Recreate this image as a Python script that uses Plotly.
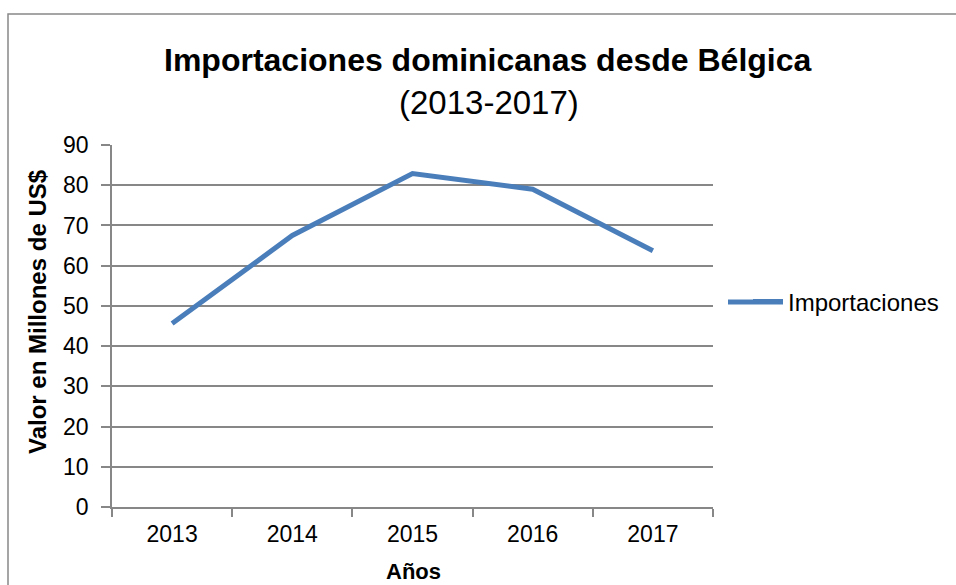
import plotly.graph_objects as go

years = ["2013", "2014", "2015", "2016", "2017"]
importaciones = [45.6, 67.5, 82.9, 79.0, 63.7]
y_ticks = [0, 10, 20, 30, 40, 50, 60, 70, 80, 90]

title_main = "Importaciones dominicanas desde Bélgica"
title_sub = "(2013-2017)"
y_title = "Valor en Millones de US$"
x_title = "Años"
series_name = "Importaciones"

FONT = "Liberation Sans, Arial, sans-serif"
GRID = "#878787"
LINE = "#4A7EBB"

W, H = 956, 585
L, R, T, B = 112, 243, 145, 78
pw, ph = W - L - R, H - T - B

def px_x(x):
    return (x - L) / pw

def px_y(y):
    return (H - B - y) / ph

fig = go.Figure()
fig.add_trace(go.Scatter(
    x=years, y=importaciones, mode="lines", name=series_name,
    line=dict(color=LINE, width=5),
))

fig.update_layout(
    width=W, height=H,
    margin=dict(l=L, r=R, t=T, b=B),
    paper_bgcolor="white", plot_bgcolor="white",
    font=dict(family=FONT, color="black", size=23),
    showlegend=True,
    legend=dict(x=px_x(748), y=px_y(302), xanchor="left", yanchor="middle",
                font=dict(size=24, family=FONT), bgcolor="rgba(0,0,0,0)"),
    xaxis=dict(type="category", range=[-0.5, 4.5], tickson="boundaries",
               ticks="outside", ticklen=8, tickcolor=GRID, tickwidth=1.5,
               showline=True, linecolor=GRID, linewidth=1.5,
               showgrid=False, tickfont=dict(size=23), ticklabelstandoff=6),
    yaxis=dict(range=[0, 90], tickvals=y_ticks, ticks="outside", ticklen=9,
               tickcolor=GRID, tickwidth=1.5, showline=True, linecolor=GRID,
               linewidth=1.5, showgrid=True, gridcolor=GRID, gridwidth=1.5,
               zeroline=False, tickfont=dict(size=23), ticklabelstandoff=8),
)

fig.add_annotation(text="<b>" + title_main + "</b>", xref="paper", yref="paper",
                   x=px_x(488), y=px_y(60), xanchor="center", yanchor="middle",
                   showarrow=False, font=dict(size=32, family=FONT))
fig.add_annotation(text=title_sub, xref="paper", yref="paper",
                   x=px_x(489), y=px_y(103), xanchor="center", yanchor="middle",
                   showarrow=False, font=dict(size=33, family=FONT))
fig.add_annotation(text="<b>" + y_title + "</b>", xref="paper", yref="paper",
                   x=px_x(37), y=px_y(312), xanchor="center", yanchor="middle",
                   textangle=-90, showarrow=False, font=dict(size=24, family=FONT))
fig.add_annotation(text="<b>" + x_title + "</b>", xref="paper", yref="paper",
                   x=px_x(413), y=px_y(571), xanchor="center", yanchor="middle",
                   showarrow=False, font=dict(size=22, family=FONT))

# outer chart border (cropped by the image edges)
fig.add_shape(type="rect", xref="paper", yref="paper",
              x0=px_x(8), x1=px_x(970), y0=px_y(600), y1=px_y(14),
              line=dict(color="#888888", width=1.5), layer="below")

# longer legend key line (Excel style)
fig.add_shape(type="line", xref="paper", yref="paper",
              x0=px_x(728), x1=px_x(783), y0=px_y(302), y1=px_y(302),
              line=dict(color=LINE, width=5))

fig.write_html("out.html", config={"displayModeBar": False},
               post_script="document.body.style.margin='0';document.body.style.overflow='hidden';")
